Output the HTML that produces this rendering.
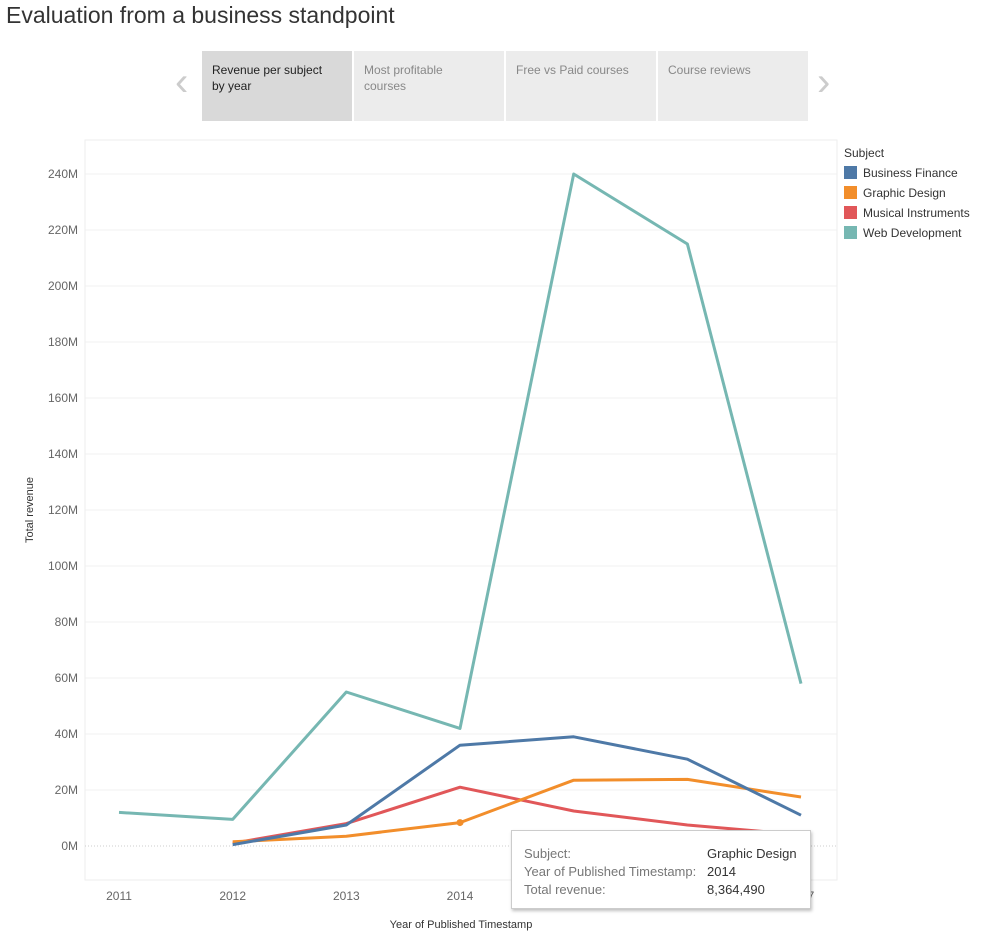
<!DOCTYPE html>
<html><head><meta charset="utf-8"><style>
body{margin:0;width:985px;height:935px;background:#fff;font-family:"Liberation Sans",sans-serif;overflow:hidden;position:relative}
.title{position:absolute;left:6px;top:2px;font-size:23px;color:#333}
.tab{position:absolute;top:51px;width:150px;height:70px;background:#ececec;font-size:12px;color:#888;box-sizing:border-box;padding:11px 28px 11px 10px;line-height:16px}
.tab.active{background:#d9d9d9;color:#222}
.arrow{position:absolute;top:60px;font-size:40px;color:#ccc;font-weight:100}
.leg{position:absolute;left:844px;font-size:12px;color:#333}
.sw{display:inline-block;width:13px;height:13px;vertical-align:-2px;margin-right:6px}
.tip{position:absolute;left:511px;top:830px;width:300px;height:79px;background:#fff;border:1px solid #ccc;box-shadow:1px 2px 3px rgba(0,0,0,.25);font-size:13px;color:#777;box-sizing:border-box;padding:14px 12px;line-height:18px}
.tip b{font-weight:normal;color:#333;position:absolute;left:195px}
</style></head><body>
<div class="title">Evaluation from a business standpoint</div>
<div class="arrow" style="left:175px">&#x2039;</div>
<div class="tab active" style="left:202px">Revenue per subject by year</div>
<div class="tab" style="left:354px">Most profitable courses</div>
<div class="tab" style="left:506px;padding-right:4px;white-space:nowrap">Free vs Paid courses</div>
<div class="tab" style="left:658px">Course reviews</div>
<div class="arrow" style="left:817px">&#x203A;</div>
<svg id="chart" width="985" height="935" style="position:absolute;left:0;top:0"></svg>
<div class="leg" style="top:146px;font-size:12px">Subject</div>
<div class="leg" style="top:166px"><span class="sw" style="background:#4e79a7"></span>Business Finance</div>
<div class="leg" style="top:186px"><span class="sw" style="background:#f28e2b"></span>Graphic Design</div>
<div class="leg" style="top:206px"><span class="sw" style="background:#e15759"></span>Musical Instruments</div>
<div class="leg" style="top:226px"><span class="sw" style="background:#76b7b2"></span>Web Development</div>
<div class="tip">Subject:<b>Graphic Design</b><br>Year of Published Timestamp:<b>2014</b><br>Total revenue:<b>8,364,490</b></div>
<script>
const years=[2011,2012,2013,2014,2015,2016,2017];
const yTicks=[0,20,40,60,80,100,120,140,160,180,200,220,240];
const businessFinance=[null,0.5,7.5,36,39,31,11];
const graphicDesign=[null,1.5,3.5,8.36449,23.5,23.8,17.5];
const musicalInstruments=[null,1,8,21,12.5,7.5,4];
const webDevelopment=[12,9.5,55,42,240,215,58];
const series=[["web-development",webDevelopment,"#76b7b2"],["musical-instruments",musicalInstruments,"#e15759"],["graphic-design",graphicDesign,"#f28e2b"],["business-finance",businessFinance,"#4e79a7"]];
const NS="http://www.w3.org/2000/svg",svg=document.getElementById('chart');
const x=i=>119+i*113.67, y=v=>846-v*2.8;
function mk(t,a,p){const e=document.createElementNS(NS,t);for(const k in a)e.setAttribute(k,a[k]);(p||svg).appendChild(e);return e;}
const bg=mk('rect',{x:85,y:140,width:752,height:740,fill:'none',stroke:'#eee'});


yTicks.forEach(t=>{
 const l=mk('line',{x1:85,x2:837,y1:y(t),y2:y(t),stroke:t===0?'#ccc':'#f0f0f0','stroke-dasharray':t===0?'1,2':''});
 
 
 const tx=mk('text',{x:78,y:y(t)+4,'text-anchor':'end','font-size':12,fill:'#666'});tx.textContent=t+'M';
 
 
});
years.forEach((yr,i)=>{const tx=mk('text',{x:x(i),y:900,'text-anchor':'middle','font-size':12,fill:'#666'});tx.textContent=yr;
 
 });
const xt=mk('text',{x:461,y:928,'text-anchor':'middle','font-size':11,fill:'#333'});xt.textContent='Year of Published Timestamp';


const yt=mk('text',{x:0,y:0,transform:'translate(33,510) rotate(-90)','text-anchor':'middle','font-size':11,fill:'#333'});yt.textContent='Total revenue';


series.forEach(([n,d,c])=>{
 const pts=d.map((v,i)=>v==null?null:x(i).toFixed(1)+','+y(v).toFixed(1)).filter(p=>p);
 const pl=mk('polyline',{points:pts.join(' '),fill:'none',stroke:c,'stroke-width':3,'stroke-linejoin':'round'});
 
 
});
const dot=mk('circle',{cx:x(3),cy:y(graphicDesign[3]),r:3.5,fill:'#f28e2b'});


</script>
</body></html>
